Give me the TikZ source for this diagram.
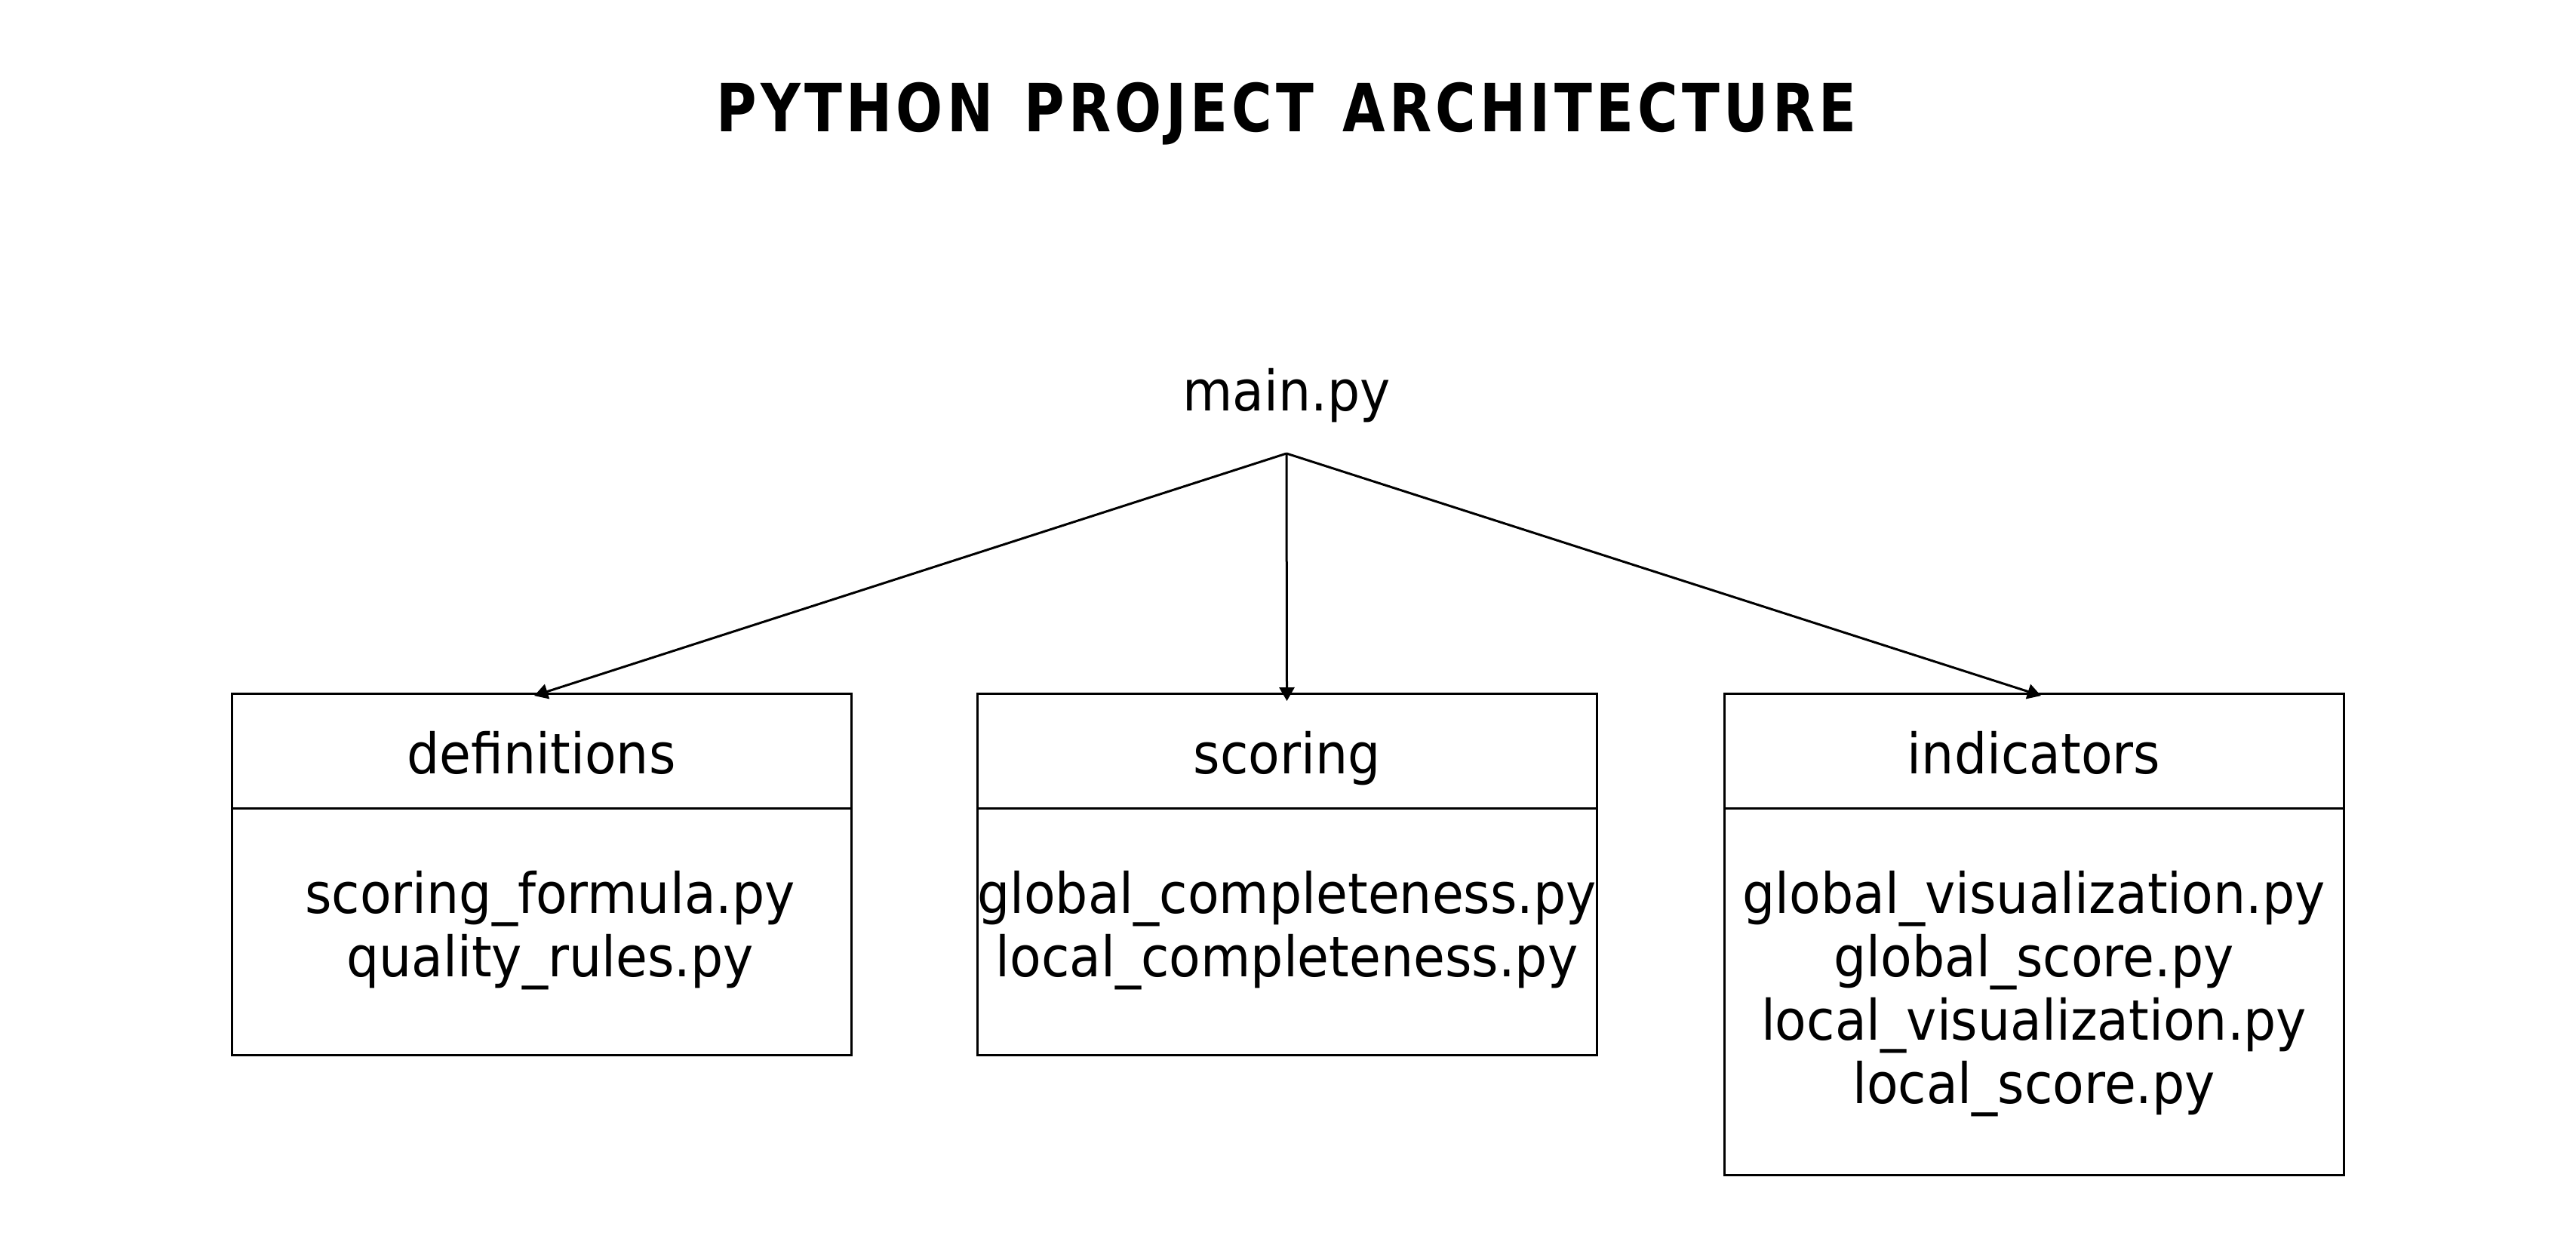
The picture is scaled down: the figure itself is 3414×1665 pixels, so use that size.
\documentclass[tikz,border=0pt]{standalone}
\usepackage{fontspec}
\setmainfont{DejaVu Sans}[FakeStretch=0.92]
\newfontfamily\titlefont{DejaVu Sans Bold}[FakeStretch=0.83, LetterSpace=6]
\usetikzlibrary{arrows.meta}
\begin{document}
\begin{tikzpicture}[x=0.5pt,y=-0.5pt,
  frame/.style={draw, line width=1.5pt, minimum width=410.5pt, inner sep=0pt, outer sep=0pt},
  lbl/.style={inner sep=0pt, font=\fontsize{37}{42}\selectfont},
  ttl/.style={inner sep=0pt, font=\fontsize{44}{50}\selectfont\titlefont},
  arr/.style={line width=1.5pt, -{Triangle[length=9pt, width=10pt]}, shorten >=-5pt}]
\useasboundingbox (0,0) rectangle (3414,1665);
\node[ttl, anchor=base] (title) at (1705,174) {PYTHON\hspace{0.12em} PROJECT\hspace{0.08em} ARCHITECTURE};
\node[lbl, anchor=base] (main) at (1705,544) {main.py};
\coordinate (hub) at (1705,601);
% boxes
\node[frame, minimum height=76pt] (defh) at (717.5,995) {};
\node[frame, minimum height=163.5pt] (defb) at (717.5,1234.5) {};
\node[frame, minimum height=76pt] (scoh) at (1705.5,995) {};
\node[frame, minimum height=163.5pt] (scob) at (1705.5,1234.5) {};
\node[frame, minimum height=76pt] (indh) at (2695.5,995) {};
\node[frame, minimum height=243pt] (indb) at (2695.5,1314) {};
% header texts
\node[lbl, anchor=base] (deft) at (717.5,1025) {definitions};
\node[lbl, anchor=base] (scot) at (1705.5,1025) {scoring};
\node[lbl, anchor=base] (indt) at (2695.5,1025) {indicators};
% body texts
\node[lbl, anchor=base] (defl) at (729,1210) {\begin{tabular}[t]{@{}c@{}}scoring\_formula.py\\quality\_rules.py\end{tabular}};
\node[lbl, anchor=base] (scol) at (1705.5,1210) {\begin{tabular}[t]{@{}c@{}}global\_completeness.py\\local\_completeness.py\end{tabular}};
\node[lbl, anchor=base] (indl) at (2695.5,1210) {\begin{tabular}[t]{@{}c@{}}global\_visualization.py\\global\_score.py\\local\_visualization.py\\local\_score.py\end{tabular}};
% connectors
\draw[arr] (hub) -- (defh.north);
\draw[arr] (hub) -- (scoh.north);
\draw[arr] (hub) -- (indh.north);
\end{tikzpicture}
\end{document}
